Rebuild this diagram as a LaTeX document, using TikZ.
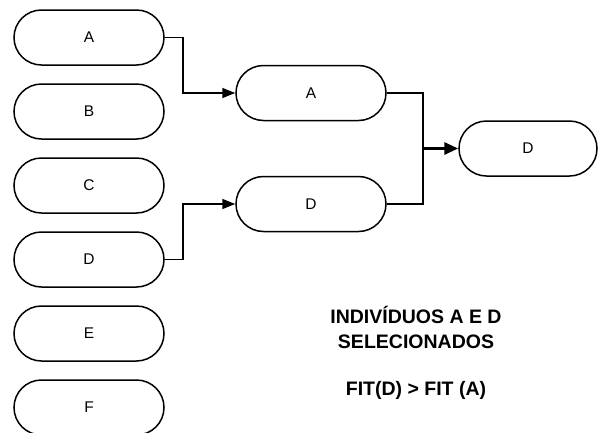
\documentclass[tikz,border=0pt]{standalone}
\usepackage{fontspec}
\setmainfont{Liberation Sans}
\usetikzlibrary{arrows.meta, positioning, shapes.misc}
\tikzset{
  pill/.style={draw, line width=1.5pt, rounded rectangle, minimum width=150pt,
               minimum height=55pt, inner sep=0pt, font=\fontsize{15.5}{18}\selectfont},
  link/.style={-{Triangle[length=13pt, width=10pt]}, line width=1.5pt},
  merge/.style={line width=1.5pt},
  bigflow/.style={-{Triangle[length=14pt, width=12pt]}, line width=3pt},
  note/.style={align=center, font=\fontsize{19.5}{25}\selectfont\bfseries},
}
\begin{document}
\begin{tikzpicture}[x=1pt, y=-1pt]
  \useasboundingbox (0,0) rectangle (598,432);
  % population
  \foreach \i/\lbl in {0/A,1/B,2/C,3/D,4/E,5/F}{
    \node[pill] (p\lbl) at (89,37.5+74*\i) {\lbl};
  }
  % tournament
  \node[pill] (sA) at (311,93) {A};
  \node[pill] (sD) at (311,204) {D};
  \node[pill, minimum width=138pt] (win) at (528,148.5) {D};
  \draw[link] (pA.east) -- ++(18,0) |- (sA.west);
  \draw[link] (pD.east) -- ++(18,0) |- (sD.west);
  \coordinate (mid) at (423,148.5);
  \draw[merge] (sA.east) -| (mid);
  \draw[merge] (sD.east) -| (mid);
  \draw[bigflow] (mid) -- (win.west);
  \node[note] (sel) at (416,327) {INDIVÍDUOS A E D\\SELECIONADOS};
  \node[note] (fit) at (416,390) {FIT(D) > FIT (A)};
\end{tikzpicture}
\end{document}
